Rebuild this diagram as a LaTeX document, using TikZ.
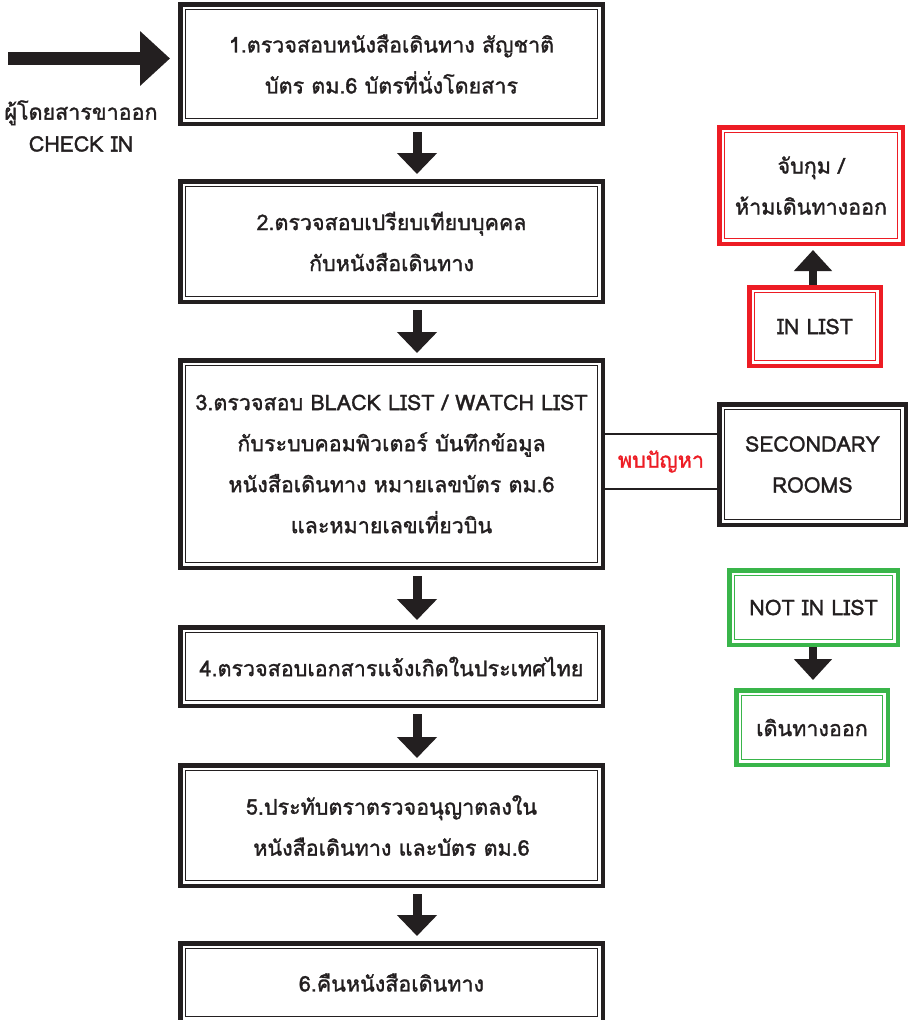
\documentclass[tikz,border=0pt]{standalone}
\usepackage{fontspec}
\setmainfont{Loma}[Script=Thai]
\newfontfamily\medfont{Loma}[Script=Thai, FakeBold=1.4]
\usetikzlibrary{arrows.meta}
\definecolor{fred}{RGB}{237,28,36}
\definecolor{fgreen}{RGB}{57,181,74}
\definecolor{ink}{RGB}{35,31,32}
\tikzset{
  dframe/.style={draw=#1, line width=4.5pt, outer sep=2.25pt, inner sep=0pt, align=center,
    text=ink, font=\medfont\fontsize{21.5}{41}\selectfont,
    append after command={\pgfextra{\draw[#1, line width=1pt]
      ([shift={(7.5pt,-7.5pt)}]\tikzlastnode.north west) rectangle
      ([shift={(-7.5pt,7.5pt)}]\tikzlastnode.south east);}}},
  mainbox/.style={dframe=ink, minimum width=422.5pt},
  darrow/.style={draw=ink, line width=9pt, -{Triangle[width=39pt,length=21pt]}},
  sarrow/.style={draw=ink, line width=8pt, -{Triangle[width=37pt,length=21pt]}},
  bigarrow/.style={draw=ink, line width=13pt, -{Triangle[width=53pt,length=30pt]}},
  thinline/.style={draw=ink, line width=1.6pt},
  plain/.style={align=center, text=ink, font=\medfont\fontsize{21.5}{32}\selectfont, inner sep=0pt}
}
\begin{document}
\begin{tikzpicture}[x=1pt,y=-1pt]
\useasboundingbox[fill=white] (0,0) rectangle (911,1020);
% main column
\node[mainbox, minimum height=119.5pt] (b1) at (391.5,64) {1.ตรวจสอบหนังสือเดินทาง สัญชาติ\\บัตร ตม.6 บัตรที่นั่งโดยสาร};
\node[mainbox, minimum height=120.5pt] (b2) at (391.5,241.5) {2.ตรวจสอบเปรียบเทียบบุคคล\\กับหนังสือเดินทาง};
\node[mainbox, minimum height=207.5pt] (b3) at (391.5,464) {3.ตรวจสอบ BLACK LIST / WATCH LIST\\กับระบบคอมพิวเตอร์ บันทึกข้อมูล\\หนังสือเดินทาง หมายเลขบัตร ตม.6\\และหมายเลขเที่ยวบิน};
\node[mainbox, minimum height=78.5pt] (b4) at (391.5,666.5) {4.ตรวจสอบเอกสารแจ้งเกิดในประเทศไทย};
\node[mainbox, minimum height=120.5pt] (b5) at (391.5,825.5) {5.ประทับตราตรวจอนุญาตลงใน\\หนังสือเดินทาง และบัตร ตม.6};
\node[mainbox, minimum height=78.5pt] (b6) at (391.5,982.5) {6.คืนหนังสือเดินทาง};
% arrows between main boxes
\foreach \a/\b in {b1/b2,b2/b3,b3/b4,b4/b5,b5/b6}
  \draw[darrow, shorten <=6pt, shorten >=5pt] ([xshift=25.5pt]\a.south) -- ([xshift=25.5pt]\b.north);
% entry arrow and label
\coordinate (start) at (8,58.5);
\draw[bigarrow, shorten >=8pt] (start) -- (start -| b1.west);
\node[plain] (pax) at (81,126) {ผู้โดยสารขาออก\\CHECK IN};
% secondary rooms
\node[dframe=ink, minimum width=186.5pt, minimum height=120.5pt] (sec) at (812.5,464.5) {SECONDARY\\ROOMS};
\node[inner sep=0pt, minimum height=55pt, text=fred, font=\medfont\fontsize{21.5}{24}\selectfont] (prob) at (661,461.5) {พบปัญหา};
\draw[thinline] (b3.east |- prob.north) -- (sec.west |- prob.north);
\draw[thinline] (b3.east |- prob.south) -- (sec.west |- prob.south);
% red branch
\node[dframe=fred, minimum width=183.5pt, minimum height=116.5pt] (arrest) at (811,185.5) {จับกุม /\\ห้ามเดินทางออก};
\node[dframe=fred, minimum width=131.5pt, minimum height=78.5pt] (inlist) at (815,326.5) {IN LIST};
\draw[sarrow, shorten >=4pt] (inlist.north -| 813,0) -- (arrest.south -| 813,0);
% green branch
\node[dframe=fgreen, minimum width=168.5pt, minimum height=74.5pt] (notin) at (813.5,607.5) {NOT IN LIST};
\node[dframe=fgreen, minimum width=151.5pt, minimum height=74.5pt] (go) at (812,727.5) {เดินทางออก};
\draw[sarrow, shorten >=8pt] (notin.south -| 813,0) -- (go.north -| 813,0);
\end{tikzpicture}
\end{document}
